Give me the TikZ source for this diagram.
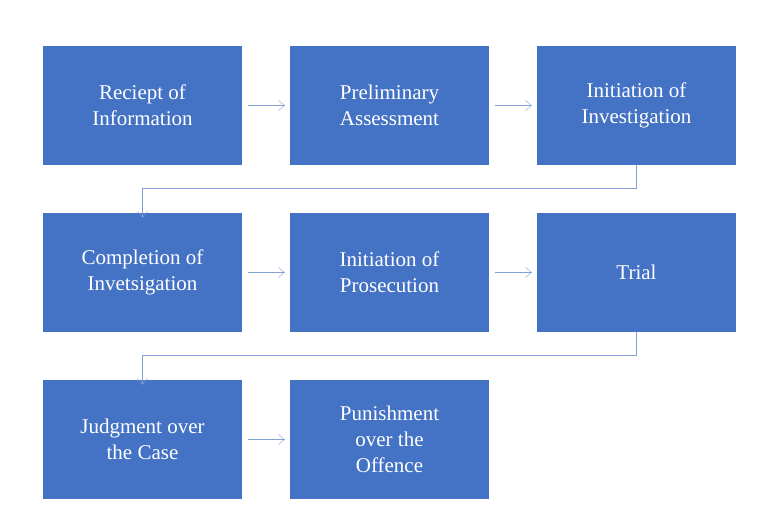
\documentclass[tikz,border=0pt]{standalone}
\usepackage{fontspec}
\setmainfont{Liberation Serif}
\usetikzlibrary{arrows.meta}
\definecolor{boxblue}{HTML}{4472C4}
\definecolor{linkblue}{HTML}{7F9FD6}
\begin{document}
\begin{tikzpicture}[x=1pt, y=-1pt,
    stage/.style = {fill=boxblue, minimum width=199pt, minimum height=119pt, align=center,
                   text=white, font=\fontsize{21}{26}\selectfont, inner sep=2pt},
    link/.style = {draw=linkblue, thin, -{Straight Barb[length=6pt, width=10pt]}}]
    \useasboundingbox (0,0) rectangle (772,518);
    \node [stage] (1) at (142.5, 105.5) {Reciept of\\Information};
    \node [stage] (2) at (389.5, 105.5) {Preliminary\\Assessment};
    \node [stage] (3) at (636.5, 105.5) {Initiation of\\Investigation};
    \node [stage] (4) at (142.5, 272.5) {Completion of\\Invetsigation};
    \node [stage] (5) at (389.5, 272.5) {Initiation of\\Prosecution};
    \node [stage] (6) at (636.5, 272.5) {Trial};
    \node [stage] (7) at (142.5, 439.5) {Judgment over\\the Case};
    \node [stage] (8) at (389.5, 439.5) {Punishment\\over the\\Offence};

    \draw [link] ([xshift=6pt]1.east) -- ([xshift=-5pt]2.west);
    \draw [link] ([xshift=6pt]2.east) -- ([xshift=-5pt]3.west);
    \draw [link] ([xshift=6pt]4.east) -- ([xshift=-5pt]5.west);
    \draw [link] ([xshift=6pt]5.east) -- ([xshift=-5pt]6.west);
    \draw [link] ([xshift=6pt]7.east) -- ([xshift=-5pt]8.west);
    \draw [link] (3.south) |- (142.5, 188) -- ([yshift=-5pt]4.north);
    \draw [link] (6.south) |- (142.5, 355) -- ([yshift=-5pt]7.north);

\end{tikzpicture}
\end{document}
